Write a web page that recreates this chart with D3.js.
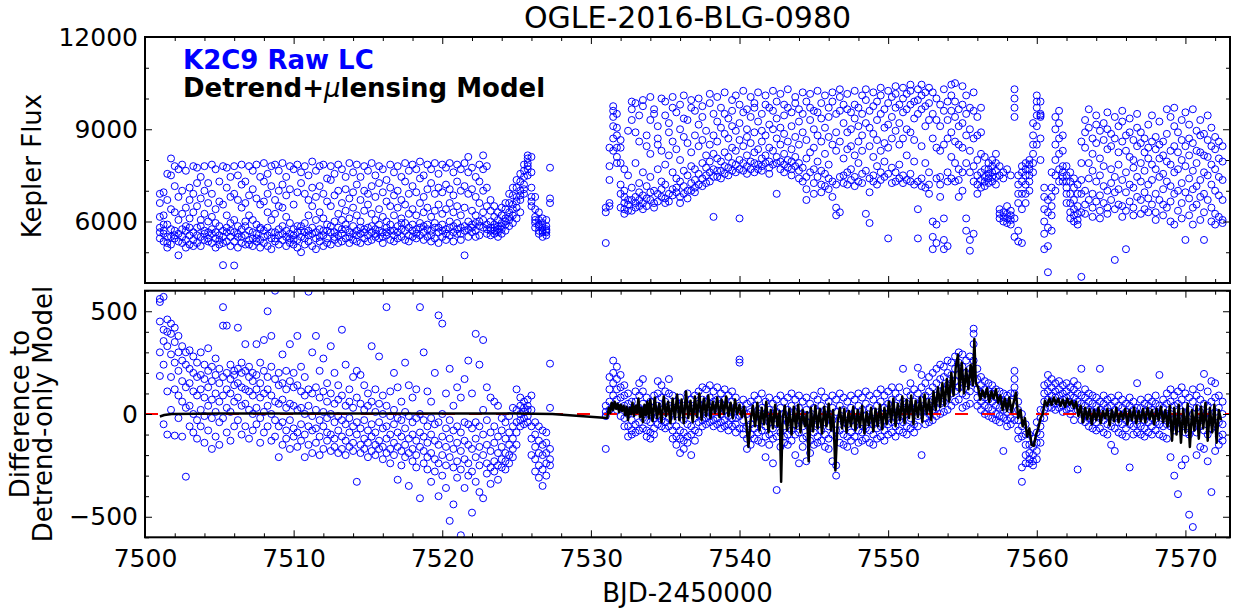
<!DOCTYPE html>
<html><head><meta charset="utf-8">
<script src="https://cdn.jsdelivr.net/npm/d3@7"></script>
<style>
html,body{margin:0;padding:0;background:#fff;}
svg{display:block;font-family:"DejaVu Sans",sans-serif;}
</style></head><body>
<div id="chart"></div>
<script>
/* OGLE-2016-BLG-0980: K2C9 raw light curve (top) and residuals to the
   detrend-only model (bottom). Each row is
   [time, flux or residual values seen at that time...]. */
var titleText="OGLE-2016-BLG-0980";
var xMajor=[7500,7510,7520,7530,7540,7550,7560,7570];
var xMinor=[7502,7504,7506,7508,7512,7514,7516,7518,7522,7524,7526,7528,7532,7534,7536,7538,7542,7544,7546,7548,7552,7554,7556,7558,7562,7564,7566,7568,7572];
var fluxMajor=[6000,9000,12000], fluxMinor=[4000,5000,7000,8000,10000,11000];
var residMajor=[-500,0,500], residMinor=[-600,-400,-300,-200,-100,100,200,300,400,600];

var fluxSeg1=[
[7501.0,6900,6600,6150,5800,5450,5650],[7501.25,6950,6200,5700,5350,5600,5900],[7501.5,7550,6700,5900,5150,5500,5300],[7501.75,8050,7500,6400,5500,5250,5750],
[7502.0,7800,7150,6300,5450,5700,5550],[7502.25,7700,6800,6050,5600,4900,5350],[7502.5,7850,7000,6250,5750,5300,5500],[7502.75,7650,6450,5850,5400,5150,5700],
[7503.0,7100,6700,6100,5550,5250,5800],[7503.25,7800,6900,6300,5650,5400,5200],[7503.5,7750,7250,6500,5800,5300,5550],[7503.75,7450,6750,6050,5500,5200,5850],
[7504.0,7800,7000,6250,5700,5400,5600],[7504.25,7250,6600,6000,5650,5350,5450],[7504.5,7850,6900,6150,5600,5300,5750],[7504.75,7700,6400,5950,5450,5150,5650],
[7505.0,7300,6650,5850,5550,5250,5400],[7505.25,7800,6550,5700,5300,4580,5500],[7505.5,7750,7100,6200,5650,5350,5800],[7505.75,7450,6800,5950,5500,5200,5700],
[7506.0,7800,6900,6050,5650,4570,5350],[7506.25,7500,6700,5850,5500,5150,5600],[7506.5,7850,7200,6450,5750,5300,5500],[7506.75,7300,6600,6000,5550,5250,5850],
[7507.0,7800,6850,6200,5700,5400,5250],[7507.25,7650,7050,6050,5450,5200,5650],[7507.5,7850,6750,5900,5600,5350,5450],[7507.75,7450,6550,5800,5400,5150,5750],
[7508.0,7900,7300,6650,5700,5300,5500],[7508.25,7550,6900,6300,5550,5200,5800],[7508.5,7800,7150,6050,5450,5100,5650],[7508.75,7850,6700,6250,5650,5350,5450],
[7509.0,7650,7000,6500,5750,5250,5550],[7509.25,7900,7200,6450,5600,5400,5850],[7509.5,7450,6850,6150,5500,5200,5700],[7509.75,7800,7050,5950,5450,5300,5600],
[7510.0,7700,6550,5750,5550,5250,5400],[7510.25,7850,6950,5650,5400,5150,5850],[7510.5,7600,7250,5850,5500,5000,5700],[7510.75,7800,6900,5950,5650,5250,5450],
[7511.0,7500,6700,6200,5700,5350,5550],[7511.25,7950,7100,6500,5600,5200,5800],[7511.5,7650,6800,6050,5450,5100,5650],[7511.75,7800,7150,6300,5750,5350,5500],
[7512.0,7850,6900,6100,5550,5200,5700],[7512.25,7400,6650,5900,5700,5300,5450],[7512.5,7800,7350,6500,5650,5250,5850],[7512.75,7550,6850,6000,5500,5400,5650],
[7513.0,7850,7000,6250,5800,5300,5550],[7513.25,7700,6600,6050,5600,5350,5750],[7513.5,7450,7050,6350,5750,5450,5900],[7513.75,7900,6750,6100,5650,5300,5500],
[7514.0,7600,6950,6450,5850,5400,5600],[7514.25,7850,7200,6200,5700,5350,5550],[7514.5,7450,6700,6000,5600,5300,5800],[7514.75,7800,7000,6350,5750,5450,5650],
[7515.0,7650,6900,6550,5800,5350,5550],[7515.25,7900,7150,6250,5650,5400,5850],[7515.5,7500,6800,6050,5750,5500,5600],[7515.75,7800,7250,6400,5900,5450,5700],
[7516.0,7700,6950,6150,5650,5300,5500],[7516.25,7350,6650,6000,5800,5550,5650],[7516.5,7850,7100,6500,5900,5400,5700],[7516.75,7600,6850,6200,5700,5350,5550],
[7517.0,7800,7000,6450,5850,5450,5650],[7517.25,7450,6700,6100,5750,5500,5950],[7517.5,7900,7300,6550,5950,5400,5700],[7517.75,7650,6900,6250,5800,5350,5550],
[7518.0,7850,7150,6400,5900,5500,5700],[7518.25,7700,6950,6200,5750,5450,5600],[7518.5,7950,7400,6600,5950,5550,5800],[7518.75,7500,6800,6300,5850,5400,5650],
[7519.0,7850,7050,6450,5900,5500,5750],[7519.25,7700,7250,6150,5700,5350,5550],[7519.5,7900,6900,6350,5950,5450,5800],[7519.75,7550,7100,6550,5800,5300,5650],
[7520.0,7850,6950,6250,5900,5500,5700],[7520.25,7750,7200,6400,5750,5400,5600],[7520.5,7900,7050,6600,6000,5550,5800],[7520.75,7600,6850,6300,5850,5350,5650],
[7521.0,7850,7300,6500,5950,5600,5750],[7521.25,7700,7000,6200,5800,5400,5600],[7521.5,7900,7150,6450,5700,4900,5850],[7521.75,8100,7600,6900,6000,5500,5750],
[7522.0,7750,7050,6350,5900,5650,5800],[7522.25,7450,6800,6200,5950,5500,5700],[7522.5,7850,7300,6600,6000,5550,5850],[7522.75,8150,7700,7000,6300,5800,6050],
[7523.0,7800,7100,6500,5900,5600,5750],[7523.25,6700,6350,6000,5800,5550,5700],[7523.5,6500,6150,5900,5700,5600,5800],[7523.75,6300,6050,5850,5650,5500,5750],
[7524.0,6450,6200,5950,5750,5600,5850],[7524.25,6600,6400,6100,5900,5700,6000],[7524.5,6900,6600,6300,6050,5850,6150],[7524.75,7100,6850,6550,6200,5950,6400],
[7525.0,7350,7100,6800,6450,6100,6650],[7525.25,7550,7300,7000,6700,6300,6850],[7525.5,7850,7650,7450,7200,6900,7050],[7525.75,8150,8050,7900,7700,7500,7800],
[7526.0,8100,7600,7100,6800,6500,6650],[7526.25,6800,6400,6150,5950,5800,6050],[7526.5,6300,6050,5900,5700,5600,5850],[7526.75,6100,5950,5800,5700,5500,5650],
[7527.0,6050,5850,5750,5650,5550,5700],[7527.25,7750,6750,6600]
];
var fluxSeg2=[
[7531.0,6450,6300,5300],[7531.25,8400,7800,7350,6600,6500],[7531.5,9750,9600,9400,9100,8700,8300],[7531.75,9500,9050,8800,8400,8100,7900],
[7532.0,8650,8400,7900,7200,6900,6450],[7532.25,7700,7000,6800,6600,6400,6250],[7532.5,8950,7500,6700,6550,6350],[7532.75,9900,9650,9300,7100,6700,6350],
[7533.0,9850,8900,7900,6800,6600,6450],[7533.25,9450,8600,7250,6950,6700,6500],[7533.5,9950,9750,7600,6850,6600,6400],[7533.75,8800,8450,7150,6750,6500],
[7534.0,10050,9300,8200,7450,6950,6700],[7534.25,9650,9500,7000,6600,6450],[7534.5,9100,8700,8500,7700,6900,6650],[7534.75,10000,8300,7300,7050,6800],
[7535.0,9900,9450,7850,7200,6750,6600],[7535.25,9200,8900,8150,6900,6650],[7535.5,10050,9700,8600,7600,7050,6850],[7535.75,9550,8350,7400,7100,6950],
[7536.0,9800,9000,8000,7300,6800,6600],[7536.25,10100,9350,8750,7650,7150,6900],[7536.5,9300,8550,7500,7000,6750],[7536.75,9950,9700,8250,7800,7250,7000],
[7537.0,9600,8800,7700,7350,7100,6950],[7537.25,10000,9150,8450,7550,7200],[7537.5,9750,9400,8650,7900,7400,7150],[7537.75,8950,8150,7750,7500,7250],
[7538.0,10150,9850,8500,7950,7600,7300],[7538.25,9500,8800,8200,7700,7450,6150],[7538.5,10050,9250,8600,8050,7650,7450],[7538.75,9700,9050,7950,7650,7400],
[7539.0,10200,9500,8850,8250,7800,7550],[7539.25,9350,8700,8100,7750,7500],[7539.5,9950,9600,9100,8400,7900,7650],[7539.75,10100,8950,8300,7850,7600],
[7540.0,9800,9200,8650,8000,7700,6100],[7540.25,10250,9550,8450,7900,7650],[7540.5,9650,9000,8750,8150,7800,7550],[7540.75,10050,9400,8550,7950,7700],
[7541.0,9850,9700,8900,8250,7900,7600],[7541.25,10200,9250,8350,7850,7700],[7541.5,9500,8950,8600,8050,7800,7650],[7541.75,10100,9800,8800,8150,7900],
[7542.0,9700,9150,8400,7950,7750,7550],[7542.25,10250,9600,9000,8300,7850],[7542.5,9900,9350,8700,8100,7900,6900],[7542.75,10150,9050,8500,7950,7700],
[7543.0,9800,9450,8850,8200,7850,7600],[7543.25,10300,9700,8600,8000,7750],[7543.5,9550,9100,8350,7950,7700,7500],[7543.75,10050,9850,8750,8100,7800],
[7544.0,9650,9250,8500,7900,7650,7400],[7544.25,10200,9500,8900,7750,7300],[7544.5,9900,8650,8050,7450,7050,6700],[7544.75,10150,9700,9300,8250,7600],
[7545.0,9600,9000,8400,7700,7250,6900],[7545.25,10250,9550,8800,7950,7450],[7545.5,9850,9350,8600,7650,7200,6950],[7545.75,10100,9050,8200,7550,7150],
[7546.0,9700,9400,8750,7850,7400,7050],[7546.25,10200,9900,8500,7300,6800],[7546.5,9500,8900,8300,7200,6450,6200],[7546.75,10300,10050,9600,8600,7450,6300],
[7547.0,9800,9200,8050,7500,7250],[7547.25,10150,9650,8900,8350,7600,7200],[7547.5,9550,9000,8450,7700,7350],[7547.75,10250,9800,9350,8150,7450,7150],
[7548.0,9700,9100,8600,7900,7300],[7548.25,10100,9500,8800,8300,7550,7250],[7548.5,10300,9950,9200,7650,6250],[7548.75,9600,9050,8450,7400,6950,5950],
[7549.0,10200,9750,8850,8100,7500,7300],[7549.25,9900,9300,8650,7800,7200],[7549.5,10350,10100,9500,8300,7600,7350],[7549.75,9650,9050,8550,7950,7450],
[7550.0,10250,9850,9150,8400,7550,5450],[7550.25,10050,9400,8700,7750,7250],[7550.5,10400,10150,9700,8950,7600,7300],[7550.75,9800,9200,8500,7850,7400],
[7551.0,10350,10000,9550,8700,7500,7250],[7551.25,10150,9650,9000,8150,7350],[7551.5,10450,10250,9800,8900,7550,7300],[7551.75,9900,9350,8650,7950,7200],
[7552.0,10300,9950,9500,7300,6400,5450],[7552.25,10450,10100,9650,8450,7400,7150],[7552.5,10200,9750,9100,7900,7100],[7552.75,10350,9850,9300,7600,7200,6900],
[7553.0,10200,9500,8700,6000,5500,5100],[7553.25,10000,9300,8400,7400,5900,5300],[7553.5,9800,9100,8300,7450,7200,6800],[7553.75,10300,9600,8500,6100,5400,5100],
[7554.0,9900,9300,8700,7600,7300,5200],[7554.25,10450,10100,9600,8900,8100,7400],[7554.5,10500,9900,9400,8600,7900,7300],[7554.75,9650,9100,8500,7700,7350,6800],
[7555.0,10400,9800,9200,8400,7600,7000],[7555.25,10100,9500,8800,7900,6100,5700],[7555.5,9700,9000,8300,7600,5400,5050],[7555.75,10200,9600,8700,7800,7300,5600],
[7556.0,9400,8800,8000,7500,7200,6900],[7556.25,9700,8900,8200,7600,7350,7100],[7556.5,8100,7700,7450,7300,7150],[7556.75,7900,7700,7550,7400,7250],
[7557.0,8000,7800,7600,7450,7300],[7557.25,8200,7900,7650,7450,7200],[7557.5,7800,7500,6400,6250,6100],[7557.75,7600,7400,6300,6150,6000],
[7558.0,7700,6500,6250,6100,5950],[7558.25,7500,6350,6200,6050,5900],[7558.5,10300,10000,9700,9400,6100,5500],[7558.75,7500,7200,6900,6600,5700,5350],
[7559.0,7800,7600,7300,6900,6400,5300],[7559.25,7900,7700,7500,7200,6900,6600],[7559.5,8000,7850,7700,7500,7300,7000],[7559.75,9200,8800,8500,8200,7900,7600],
[7560.0,10100,9900,9700,9450,9100,8500],[7560.25,9900,9500,9450,9400,8700,8000],[7560.5,7100,6800,6400,6000,5600,5100],[7560.75,6700,6300,5800,5200,4350],
[7561.0,7600,7100,6800,6500,6200,5700],[7561.25,9400,9000,8500,8000,7500,7000],[7561.5,9600,9200,8700,8200,7700,7300],[7561.75,8800,8300,7800,7600,7450,7300],
[7562.0,7800,7500,7300,7100,6900,6600],[7562.25,7600,7300,6900,6600,6300,6100],[7562.5,7400,7100,6700,6400,6200,6000],[7562.75,7200,6900,6500,6250,6050,5900],
[7563.0,8600,7900,7350,6900,6300,4200],[7563.25,9300,8900,8400,7000,6550,6250],[7563.5,9650,9050,7900,7400,6700],[7563.75,8700,8200,7650,6900,6450,6150],
[7564.0,9450,9150,8550,7300,6650],[7564.25,8950,8050,7500,6850,6350,6100],[7564.5,9200,8650,7800,7150,6600],[7564.75,9550,9000,8350,7000,6450,6250],
[7565.0,8850,8450,7700,7250,6700],[7565.25,9400,8700,7450,6950,6400,4750],[7565.5,9100,8250,7850,7050,6550],[7565.75,9600,9250,8600,7350,6500,6150],
[7566.0,8800,8300,7600,6950,6350,5100],[7566.25,9350,8900,8100,7200,6650],[7566.5,8650,8000,7750,7100,6450,6200],[7566.75,9500,9050,8450,7450,6800],
[7567.0,8900,8550,7900,7300,6700,6250],[7567.25,8700,8250,7650,6950,6400],[7567.5,9150,8400,8050,7200,6750,6300],[7567.75,9450,8600,7850,7350,6550],
[7568.0,8750,8350,7700,6900,6300,6050],[7568.25,9250,8500,8050,7450,6700],[7568.5,8600,8150,7550,7050,6550,6200],[7568.75,9650,8850,7950,7300,6450],
[7569.0,9400,8300,7850,7150,6650,6000],[7569.25,9700,9100,8450,7600,6900,5900],[7569.5,8900,8250,7700,7000,6350],[7569.75,9300,8650,8000,7250,6600,6100],
[7570.0,9550,8450,7800,6950,5400],[7570.25,9150,8700,8150,7400,6750,6200],[7570.5,9650,8550,7650,7050,6450,5900],[7570.75,8950,8300,7900,7150,6550],
[7571.0,9300,8800,8250,7350,6800,6050],[7571.25,8850,8150,7600,6900,6300,5400],[7571.5,9450,8650,8100,7500,6700],[7571.75,9050,8450,7850,7200,6450,6000],
[7572.0,8750,8350,7700,7000,6250,5900],[7572.25,8600,8050,7450,6850,6150],[7572.5,8450,7950,7350,6700,6050,5950]
];
var residSeg1=[
[7501.0,560,545,450,300,185],[7501.25,570,410,355,240,-50],[7501.5,460,400,330,110,-100],[7501.75,440,390,290,180,20],
[7502.0,420,350,250,120,-105],[7502.25,380,300,210,90,-20],[7502.5,330,260,160,60,-110],[7502.75,300,240,130,30,-305],
[7503.0,310,220,150,40,-60],[7503.25,280,200,110,0,-90],[7503.5,250,180,90,-30,-120],[7503.75,300,190,120,20,-60],
[7504.0,240,170,80,-10,-140],[7504.25,320,210,130,40,-80],[7504.5,230,160,70,-20,-170],[7504.75,270,190,100,10,-110],
[7505.0,220,150,60,-40,-150],[7505.25,520,430,180,90,-20],[7505.5,430,200,120,30,-90],[7505.75,240,170,100,10,-130],
[7506.0,210,190,140,60,-60],[7506.25,420,220,150,80,-30],[7506.5,250,200,130,40,-100],[7506.75,340,210,120,50,-60],
[7507.0,230,180,110,20,-120],[7507.25,200,160,90,0,-80],[7507.5,340,190,120,30,-50],[7507.75,250,150,80,-20,-140],
[7508.0,360,210,100,10,-90],[7508.25,500,180,120,40,-60],[7508.5,380,230,90,0,-130],[7508.75,600,170,60,-30,-110],
[7509.0,200,140,50,-60,-210],[7509.25,290,150,70,-40,-150],[7509.5,210,120,30,-80,-120],[7509.75,340,160,50,-30,-170],
[7510.0,200,130,40,-70,-110],[7510.25,380,140,20,-90,-160],[7510.5,230,110,30,-50,-130],[7510.75,180,90,0,-100,-210],
[7511.0,595,120,40,-60,-150],[7511.25,300,100,-10,-80,-190],[7511.5,380,130,20,-70,-140],[7511.75,210,80,-30,-110,-200],
[7512.0,270,110,10,-60,-170],[7512.25,150,60,-20,-90,-130],[7512.5,330,100,0,-100,-180],[7512.75,200,50,-40,-120,-160],
[7513.0,140,70,-10,-80,-190],[7513.25,410,90,-30,-110,-170],[7513.5,240,40,-50,-130,-200],[7513.75,120,60,-20,-90,-160],
[7514.0,180,30,-60,-140,-180],[7514.25,210,80,-40,-100,-330],[7514.5,190,50,-70,-150,-190],[7514.75,140,20,-30,-120,-170],
[7515.0,100,40,-80,-140,-210],[7515.25,330,60,-50,-110,-180],[7515.5,120,10,-90,-150,-200],[7515.75,280,50,-40,-130,-170],
[7516.0,90,0,-70,-160,-220],[7516.25,520,40,-60,-120,-190],[7516.5,110,-10,-100,-170,-240],[7516.75,200,20,-50,-140,-200],
[7517.0,130,-20,-90,-160,-320],[7517.25,60,-30,-110,-180,-250],[7517.5,250,10,-70,-150,-210],[7517.75,140,-10,-120,-190,-350],
[7518.0,80,-40,-100,-170,-230],[7518.25,120,-20,-130,-200,-260],[7518.5,520,0,-90,-160,-410],[7518.75,300,-30,-110,-180,-240],
[7519.0,110,-60,-140,-210,-270],[7519.25,60,-20,-100,-190,-330],[7519.5,200,-50,-130,-220,-280],[7519.75,480,-40,-150,-240,-400],
[7520.0,440,0,-110,-200,-300],[7520.25,100,-70,-160,-250,-360],[7520.5,220,-30,-120,-210,-520],[7520.75,40,-80,-170,-260,-440],
[7521.0,130,-60,-140,-230,-310],[7521.25,80,-90,-180,-270,-590],[7521.5,170,-40,-130,-220,-360],[7521.75,260,-50,-150,-240,-300],
[7522.0,100,-70,-170,-280,-480],[7522.25,390,-40,-120,-210,-330],[7522.5,240,-60,-160,-250,-380],[7522.75,360,20,-100,-200,-410],
[7523.0,130,-30,-150,-240,-290],[7523.25,80,-90,-180,-260,-340],[7523.5,60,-60,-140,-230,-280],[7523.75,40,-110,-190,-250,-320],
[7524.0,-20,-80,-160,-220,-260],[7524.25,-40,-120,-190,-230,-270],[7524.5,-10,-90,-150,-200,-240],[7524.75,30,-60,-120,-170,-210],
[7525.0,120,20,-40,-90,-150],[7525.25,80,40,0,-30,-60],[7525.5,60,30,10,-20,-50],[7525.75,70,40,20,-10,-40],
[7526.0,90,20,-60,-120,-200],[7526.25,-40,-100,-160,-220,-280],[7526.5,-60,-130,-190,-250,-310],[7526.75,-80,-150,-200,-270,-350],
[7527.0,-90,-140,-190,-240,-300],[7527.25,245,30,-170,-220,-250]
];
var residSeg2=[
[7531.0,40,10,-10,-170],[7531.25,180,120,60,20],[7531.5,260,200,150,90,40],[7531.75,230,170,120,70,20],
[7532.0,190,130,80,30,-10],[7532.25,140,90,40,-20,-60],[7532.5,100,50,0,-60,-110],[7532.75,60,20,-30,-80,-100],
[7533.0,110,60,10,-50,-90],[7533.25,150,90,30,-40,-80],[7533.5,170,110,50,-20,-70],[7533.75,80,30,-30,-80,-110],
[7534.0,60,10,-40,-90,-120],[7534.25,90,30,-20,-70,-100],[7534.5,160,100,40,-10,-50],[7534.75,140,80,20,-30,-60],
[7535.0,110,60,10,-40,-70],[7535.25,170,100,40,-20,-60],[7535.5,90,30,-30,-80,-120],[7535.75,60,0,-60,-110,-150],
[7536.0,80,20,-80,-120,-190],[7536.25,40,-30,-90,-130,-170],[7536.5,100,40,-50,-110,-140],[7536.75,70,10,-60,-100,-200],
[7537.0,90,30,-20,-80,-130],[7537.25,110,50,0,-40,-90],[7537.5,130,70,20,-30,-60],[7537.75,120,60,10,-20,-50],
[7538.0,140,80,30,-10,-40],[7538.25,110,60,20,-30,-60],[7538.5,130,70,10,-20,-50],[7538.75,100,50,0,-40,-70],
[7539.0,120,70,20,-30,-60],[7539.25,90,40,-10,-50,-80],[7539.5,110,60,10,-20,-60],[7539.75,80,30,-20,-50,-90],
[7540.0,265,250,40,-10,-70],[7540.25,70,20,-30,-70,-100],[7540.5,50,0,-60,-120,-170],[7540.75,60,10,-50,-100,-150],
[7541.0,90,40,-20,-70,-120],[7541.25,70,20,-40,-90,-130],[7541.5,100,30,-30,-80,-140],[7541.75,60,0,-60,-110,-210],
[7542.0,80,20,-40,-100,-150],[7542.25,50,-10,-70,-120,-240],[7542.5,70,10,-50,-110,-370],[7542.75,90,30,-30,-90,-160],
[7543.0,60,0,-60,-110,-140],[7543.25,80,20,-40,-100,-150],[7543.5,100,40,-20,-80,-130],[7543.75,70,10,-50,-100,-200],
[7544.0,90,30,-30,-90,-240],[7544.25,60,0,-60,-120,-160],[7544.5,80,20,-40,-110,-230],[7544.75,50,-10,-70,-130,-190],
[7545.0,90,30,-30,-90,-150],[7545.25,70,10,-50,-110,-140],[7545.5,110,40,-20,-80,-130],[7545.75,80,20,-40,-100,-160],
[7546.0,60,0,-60,-120,-170],[7546.25,90,30,-30,-100,-230],[7546.5,70,10,-80,-250,-300],[7546.75,100,40,-20,-80,-140],
[7547.0,80,20,-40,-100,-150],[7547.25,60,0,-50,-110,-160],[7547.5,90,30,-30,-90,-130],[7547.75,70,10,-60,-110,-180],
[7548.0,100,40,-20,-80,-140],[7548.25,80,20,-40,-90,-130],[7548.5,110,50,-10,-70,-120],[7548.75,90,30,-30,-80,-140],
[7549.0,70,10,-50,-100,-150],[7549.25,100,40,-20,-70,-120],[7549.5,120,60,0,-60,-110],[7549.75,90,30,-30,-80,-130],
[7550.0,110,50,0,-50,-100],[7550.25,130,70,10,-40,-90],[7550.5,100,40,-20,-60,-110],[7550.75,130,80,20,-30,-80],
[7551.0,220,60,10,-40,-90],[7551.25,110,50,0,-60,-100],[7551.5,150,90,30,-20,-70],[7551.75,120,60,10,-50,-90],
[7552.0,225,100,40,-10,-60],[7552.25,190,130,70,10,-200],[7552.5,150,90,30,-20,-50],[7552.75,180,110,60,0,-40],
[7553.0,200,130,70,20,-30],[7553.25,220,150,90,30,-10],[7553.5,240,170,110,50,0],[7553.75,230,180,120,60,10],
[7554.0,260,200,140,80,20],[7554.25,250,190,150,100,40],[7554.5,280,220,160,110,60],[7554.75,300,250,190,130,70],
[7555.0,290,230,170,100,30],[7555.25,260,200,150,90,40],[7555.5,280,220,160,110,50],[7555.75,415,390,340,260,150],
[7556.0,220,170,120,80,40],[7556.25,180,140,100,60,20],[7556.5,160,120,80,40,0],[7556.75,150,110,70,30,-10],
[7557.0,140,100,60,20,-20],[7557.25,120,80,40,0,-30],[7557.5,110,70,30,-10,-40],[7557.75,100,60,20,-20,-180],
[7558.0,90,50,10,-30,-60],[7558.25,100,60,20,-20,-50],[7558.5,210,170,130,100,-30],[7558.75,60,20,-30,-80,-120],
[7559.0,0,-60,-110,-260,-330],[7559.25,-50,-100,-150,-200,-240],[7559.5,-100,-150,-190,-220,-240],[7559.75,-120,-160,-200,-230,-250],
[7560.0,-40,-90,-140,-180,-220],[7560.25,20,-20,-60,-100,-140],[7560.5,140,100,60,20,-20],[7560.75,190,150,110,70,30],
[7561.0,170,130,90,60,30],[7561.25,150,110,80,50,20],[7561.5,160,120,90,60,30],[7561.75,140,100,70,40,10],
[7562.0,150,110,80,50,20],[7562.25,130,90,60,30,0],[7562.5,160,120,80,40,-30],[7562.75,140,100,60,20,-270],
[7563.0,220,90,50,10,-30],[7563.25,120,80,40,0,-40],[7563.5,100,60,20,-20,-60],[7563.75,90,50,10,-30,-70],
[7564.0,80,40,0,-40,-80],[7564.25,220,60,20,-20,-70],[7564.5,90,50,10,-30,-90],[7564.75,70,30,-10,-50,-100],
[7565.0,80,40,0,-60,-150],[7565.25,60,20,-20,-70,-180],[7565.5,90,40,0,-40,-90],[7565.75,70,30,-10,-50,-100],
[7566.0,50,10,-30,-70,-110],[7566.25,80,40,0,-50,-260],[7566.5,60,20,-20,-60,-100],[7566.75,150,30,-10,-50,-90],
[7567.0,70,30,-10,-60,-100],[7567.25,50,10,-30,-70,-110],[7567.5,80,40,0,-40,-90],[7567.75,60,20,-20,-60,-100],
[7568.0,90,50,10,-40,-80],[7568.25,190,40,0,-50,-100],[7568.5,70,30,-10,-60,-110],[7568.75,100,50,0,-50,-120],
[7569.0,120,60,0,-60,-210],[7569.25,90,40,-20,-80,-300],[7569.5,110,50,-10,-70,-390],[7569.75,130,70,10,-50,-250],
[7570.0,100,40,-30,-90,-220],[7570.25,80,20,-40,-100,-490],[7570.5,120,60,0,-70,-550],[7570.75,90,30,-30,-90,-200],
[7571.0,130,70,10,-60,-160],[7571.25,195,50,-10,-80,-170],[7571.5,110,40,-20,-100,-230],[7571.75,160,60,0,-70,-380],
[7572.0,150,80,10,-60,-180],[7572.25,90,30,-40,-110,-150],[7572.5,60,0,-50,-100,-130]
];
/* detrend+microlensing model minus detrend-only model, [time, value] */
var modelLine=[
[7501.0,-12],[7501.3,-5],[7501.8,0],[7505,2],[7510,3],[7515,2],[7520,3],[7525,2],[7527.4,0],
[7531.1,-20],[7531.2,30],[7531.3,5],[7531.4,55],[7531.5,20],[7531.6,60],[7531.7,25],[7531.8,50],[7531.9,10],[7532.0,45],[7532.1,15],[7532.2,40],[7532.3,-5],[7532.4,35],[7532.5,-30],[7532.6,30],[7532.7,0],[7532.8,55],[7532.9,-10],[7533.0,40],[7533.1,5],[7533.2,75],[7533.3,-15],[7533.4,30],[7533.5,-40],[7533.6,45],[7533.7,-5],[7533.8,60],[7533.9,-20],[7534.0,70],
[7534.15,-35],[7534.3,80],[7534.45,-20],[7534.6,50],[7534.75,-40],[7534.9,85],[7535.05,-10],[7535.2,60],[7535.35,-45],[7535.5,75],[7535.65,-25],[7535.8,95],[7535.95,-30],[7536.1,70],[7536.25,-45],[7536.4,110],[7536.55,-20],[7536.7,65],[7536.85,-40],[7537.0,85],[7537.15,-15],[7537.3,100],[7537.45,-30],[7537.6,75],[7537.75,-10],[7537.9,90],
[7538.05,-20],[7538.2,60],[7538.35,5],[7538.5,80],[7538.65,-15],[7538.8,70],[7538.95,0],[7539.1,85],[7539.25,-10],[7539.4,55],[7539.55,-20],[7539.7,70],[7539.85,0],[7540.0,45],[7540.15,-15],[7540.3,35],[7540.45,-40],[7540.6,-160],[7540.75,-30],[7540.9,40],[7541.05,-60],[7541.2,55],[7541.35,-80],[7541.5,30],[7541.65,-50],[7541.8,60],[7541.95,-90],
[7542.1,20],[7542.25,-70],[7542.4,45],[7542.55,-60],[7542.7,15],[7542.8,-330],[7542.9,-20],[7543.05,40],[7543.2,-80],[7543.35,25],[7543.5,-100],[7543.65,35],[7543.8,-70],[7543.95,45],[7544.1,-90],[7544.25,20],[7544.4,-60],[7544.55,10],[7544.65,-230],[7544.8,30],[7544.95,-85],[7545.1,40],[7545.25,-70],[7545.4,25],[7545.55,-95],[7545.7,35],[7545.85,-60],
[7546.0,50],[7546.15,-80],[7546.3,20],[7546.45,-275],[7546.6,-40],[7546.75,30],[7546.9,-70],[7547.05,25],[7547.2,-90],[7547.35,15],[7547.5,-60],[7547.65,35],[7547.8,-80],[7547.95,20],[7548.1,-65],[7548.25,40],[7548.4,-95],[7548.55,10],[7548.7,-55],[7548.85,30],[7549.0,-85],[7549.15,25],[7549.3,-60],[7549.45,45],[7549.6,-75],[7549.75,30],[7549.9,-50],
[7550.05,60],[7550.2,-40],[7550.35,75],[7550.5,-60],[7550.65,50],[7550.8,-30],[7550.95,85],[7551.1,-45],[7551.25,70],[7551.4,-20],[7551.55,90],[7551.7,-50],[7551.85,65],[7552.0,-15],[7552.15,80],[7552.3,-40],[7552.45,95],[7552.6,0],[7552.75,70],[7552.9,-30],[7553.05,110],[7553.2,20],[7553.35,130],[7553.5,35],[7553.65,150],[7553.8,40],[7553.95,170],
[7554.1,60],[7554.25,200],[7554.4,90],[7554.55,230],[7554.7,290],[7554.8,110],[7554.95,250],[7555.1,100],[7555.25,220],[7555.4,120],[7555.55,240],[7555.7,140],[7555.8,365],[7555.9,150],[7556.05,130],[7556.2,70],[7556.35,115],[7556.5,80],[7556.65,125],[7556.8,60],[7556.95,110],[7557.1,75],[7557.25,120],[7557.4,55],[7557.55,90],[7557.7,20],[7557.85,75],
[7558.0,15],[7558.15,80],[7558.3,10],[7558.45,60],[7558.6,105],[7558.75,-20],[7558.9,20],[7559.05,-60],[7559.2,-20],[7559.35,-110],[7559.5,-70],[7559.65,-150],[7559.8,-155],[7559.95,-100],[7560.1,-70],[7560.25,-20],[7560.4,0],[7560.55,65],[7560.7,40],[7560.85,75],[7561.0,45],[7561.15,80],[7561.3,50],[7561.45,75],[7561.6,40],[7561.75,70],[7561.9,35],
[7562.05,75],[7562.2,45],[7562.35,65],[7562.5,30],[7562.65,60],[7562.8,-10],[7562.95,40],[7563.1,-40],[7563.25,30],[7563.4,-25],[7563.55,25],[7563.7,-50],[7563.85,20],[7564.0,-30],[7564.15,30],[7564.3,-45],[7564.45,15],[7564.6,-20],[7564.75,25],[7564.9,-55],[7565.05,20],[7565.2,-35],[7565.35,30],[7565.5,-40],[7565.65,10],[7565.8,-25],[7565.95,25],
[7566.1,-50],[7566.25,20],[7566.4,-30],[7566.55,30],[7566.7,-45],[7566.85,15],[7567.0,-35],[7567.15,25],[7567.3,-40],[7567.45,30],[7567.6,-25],[7567.75,20],[7567.9,-50],[7568.05,25],[7568.2,-30],[7568.35,35],[7568.5,-40],[7568.65,20],[7568.8,-60],[7568.95,40],[7569.1,-130],[7569.25,30],[7569.4,-100],[7569.55,45],[7569.7,-140],[7569.85,25],
[7570.0,-90],[7570.15,50],[7570.3,-160],[7570.45,20],[7570.6,-80],[7570.75,40],[7570.9,-120],[7571.05,35],[7571.2,-70],[7571.35,55],[7571.5,-130],[7571.65,30],[7571.8,-90],[7571.95,45],[7572.1,-140],[7572.25,20],[7572.4,-30]
];

function flatten(rows){var out=[];rows.forEach(function(r){for(var i=1;i<r.length;i++) out.push({t:r[0],v:r[i]});});return out;}
var fluxPts=flatten(fluxSeg1).concat(flatten(fluxSeg2));
var residPts=flatten(residSeg1).concat(flatten(residSeg2));

var W=1233,H=611,L=145,R=1230;
var top0=37,top1=283,bot0=290.7,bot1=537.3;
var blue="#0000ff";
var svg=d3.select("#chart").append("svg").attr("width",W).attr("height",H).attr("viewBox","0 0 "+W+" "+H);
var x=d3.scaleLinear().domain([7500,7573]).range([L,R]);
var yTop=d3.scaleLinear().domain([4000,12000]).range([top1,top0]);
var yBot=d3.scaleLinear().domain([-600,600]).range([bot1,bot0]);

function clip(id,y0,y1){svg.append("clipPath").attr("id",id).append("rect").attr("x",L).attr("y",y0).attr("width",R-L).attr("height",y1-y0);}
clip("clipTop",top0,top1); clip("clipBot",bot0,bot1);

/* inward ticks on all four sides */
function axes(y,y0,y1,yMaj,yMin,xLabels,yFmt){
    function styl(g){g.select(".domain").remove();g.selectAll("line").attr("stroke","#000").attr("stroke-width",1);
        g.selectAll("text").attr("fill","#000").attr("font-size","25px").attr("font-family","DejaVu Sans, sans-serif");}
    svg.append("g").attr("transform","translate(0,"+y1+")").call(d3.axisBottom(x).tickValues(xMajor).tickSize(-7).tickPadding(12).tickFormat(xLabels?d3.format("d"):function(){return "";})).call(styl);
    svg.append("g").attr("transform","translate(0,"+y1+")").call(d3.axisBottom(x).tickValues(xMinor).tickSize(-4).tickFormat("")).call(styl);
    svg.append("g").attr("transform","translate(0,"+y0+")").call(d3.axisTop(x).tickValues(xMajor).tickSize(-7).tickFormat("")).call(styl);
    svg.append("g").attr("transform","translate(0,"+y0+")").call(d3.axisTop(x).tickValues(xMinor).tickSize(-4).tickFormat("")).call(styl);
    svg.append("g").attr("transform","translate("+L+",0)").call(d3.axisLeft(y).tickValues(yMaj).tickSize(-7).tickPadding(7).tickFormat(yFmt)).call(styl);
    svg.append("g").attr("transform","translate("+L+",0)").call(d3.axisLeft(y).tickValues(yMin).tickSize(-4).tickFormat("")).call(styl);
    svg.append("g").attr("transform","translate("+R+",0)").call(d3.axisRight(y).tickValues(yMaj).tickSize(-7).tickFormat("")).call(styl);
    svg.append("g").attr("transform","translate("+R+",0)").call(d3.axisRight(y).tickValues(yMin).tickSize(-4).tickFormat("")).call(styl);
    svg.append("rect").attr("x",L).attr("y",y0).attr("width",R-L).attr("height",y1-y0).attr("fill","none").attr("stroke","#000").attr("stroke-width",2);
}

/* top panel: raw light curve */
svg.append("g").attr("clip-path","url(#clipTop)").selectAll("circle").data(fluxPts).enter().append("circle")
    .attr("cx",function(d){return x(d.t);}).attr("cy",function(d){return yTop(d.v);}).attr("r",3.5)
    .attr("fill","none").attr("stroke",blue).attr("stroke-width",1);
axes(yTop,top0,top1,fluxMajor,fluxMinor,false,d3.format("d"));

/* bottom panel: residuals, zero line, model */
var gb=svg.append("g").attr("clip-path","url(#clipBot)");
gb.selectAll("circle").data(residPts).enter().append("circle")
    .attr("cx",function(d){return x(d.t);}).attr("cy",function(d){return yBot(d.v);}).attr("r",3.5)
    .attr("fill","none").attr("stroke",blue).attr("stroke-width",1);
gb.append("line").attr("x1",x(7500)).attr("x2",x(7573)).attr("y1",yBot(0)).attr("y2",yBot(0))
    .attr("stroke","#ff0000").attr("stroke-width",2).attr("stroke-dasharray","13,14");
gb.append("path").datum(modelLine).attr("fill","none").attr("stroke","#000").attr("stroke-width",2.5).attr("stroke-linejoin","round")
    .attr("d",d3.line().x(function(d){return x(d[0]);}).y(function(d){return yBot(d[1]);}));
axes(yBot,bot0,bot1,residMajor,residMinor,true,function(d){return d<0?"\u2212"+Math.abs(d):String(d);});

/* titles and labels */
svg.append("text").attr("x",(L+R)/2).attr("y",28).attr("text-anchor","middle").attr("font-size","30px").text(titleText);
svg.append("text").attr("x",(L+R)/2).attr("y",602).attr("text-anchor","middle").attr("font-size","26px").text("BJD-2450000");
svg.append("text").attr("transform","translate(41,166) rotate(-90)").attr("text-anchor","middle").attr("font-size","26px").text("Kepler Flux");
svg.append("text").attr("transform","translate(29,414) rotate(-90)").attr("text-anchor","middle").attr("font-size","26px").text("Difference to");
svg.append("text").attr("transform","translate(52,414) rotate(-90)").attr("text-anchor","middle").attr("font-size","26px").text("Detrend-only Model");

svg.append("text").attr("x",183).attr("y",69).attr("font-size","26px").attr("font-weight","bold").attr("fill",blue).text("K2C9 Raw LC");
var leg2=svg.append("text").attr("x",183).attr("y",97).attr("font-size","26px").attr("font-weight","bold").attr("fill","#000");
leg2.append("tspan").text("Detrend+");
leg2.append("tspan").attr("font-style","italic").attr("font-weight","normal").text("\u03bc");
leg2.append("tspan").text("lensing Model");
</script>
</body></html>
